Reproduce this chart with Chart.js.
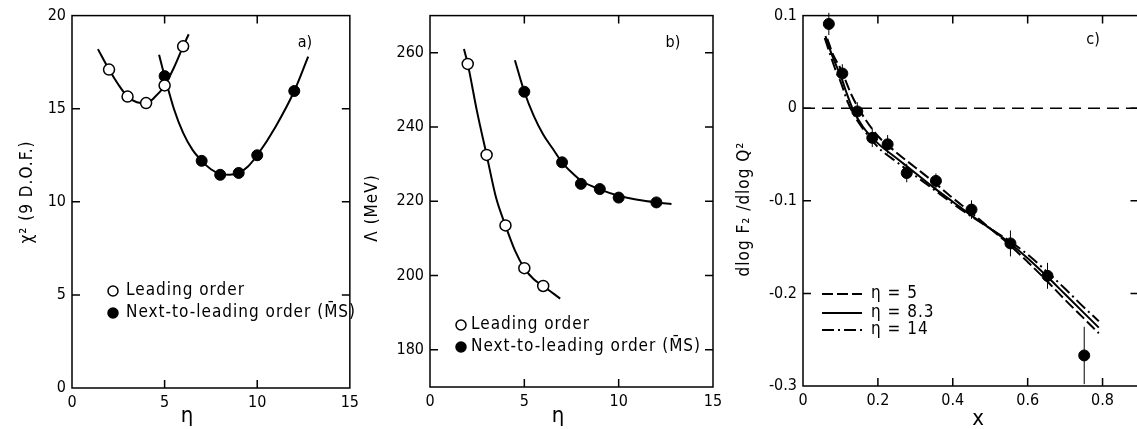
<!DOCTYPE html>
<html>
<head>
<meta charset="utf-8">
<script src="https://cdn.jsdelivr.net/npm/chart.js@4.4.1/dist/chart.umd.min.js"></script>
<style>
  html, body { margin: 0; padding: 0; background: #fff; width: 1137px; height: 429px; overflow: hidden; }
  canvas { position: absolute; top: 0; }
</style>
</head>
<body>
<canvas id="chartA" width="364" height="429" style="left:0px"></canvas>
<canvas id="chartB" width="370" height="429" style="left:364px"></canvas>
<canvas id="chartC" width="411" height="429" style="left:734px"></canvas>
<script>
// ---- panel a: chi2 vs eta
const etaLoA = [2, 3, 4, 5, 6];
const chi2Lo = [17.1, 15.65, 15.3, 16.25, 18.35];
const etaNloA = [5, 7, 8, 9, 10, 12];
const chi2Nlo = [16.75, 12.2, 11.45, 11.55, 12.5, 15.95];
const fitLoAEta = [1.4, 2, 2.5, 3, 3.5, 4, 4.5, 5, 5.5, 6, 6.3];
const fitLoAChi2 = [18.2, 17.1, 16.3, 15.65, 15.35, 15.3, 15.65, 16.25, 17.2, 18.35, 19.0];
const fitNloAEta = [4.7, 5, 5.5, 6, 6.5, 7, 7.5, 8, 8.5, 9, 9.5, 10, 11, 12, 12.75];
const fitNloAChi2 = [17.9, 16.75, 15.0, 13.7, 12.8, 12.2, 11.75, 11.5, 11.45, 11.55, 11.9, 12.5, 14.05, 15.95, 17.8];
const ticksAx = [0, 5, 10, 15];
const ticksAy = [0, 5, 10, 15, 20];

// ---- panel b: Lambda vs eta
const etaLoB = [2, 3, 4, 5, 6];
const lamLo = [257, 232.5, 213.5, 202, 197.2];
const etaNloB = [5, 7, 8, 9, 10, 12];
const lamNlo = [249.5, 230.5, 224.7, 223.3, 221, 219.7];
const fitLoBEta = [1.8, 2, 2.5, 3, 3.5, 4, 4.5, 5, 5.5, 6, 6.9];
const fitLoBLam = [261, 257, 244, 232.5, 221, 213.5, 206.8, 202, 199, 197.2, 193.8];
const fitNloBEta = [4.5, 5, 5.5, 6, 6.5, 7, 7.5, 8, 9, 10, 11, 12, 12.8];
const fitNloBLam = [258, 249.5, 243, 238, 234.2, 230.5, 227.8, 225.6, 223.2, 221.5, 220.4, 219.7, 219.3];
const ticksBx = [0, 5, 10, 15];
const ticksBy = [180, 200, 220, 240, 260];

// ---- panel c: dlogF2/dlogQ2 vs x
const xData = [0.069, 0.105, 0.145, 0.185, 0.226, 0.277, 0.355, 0.45, 0.554, 0.653, 0.751];
const slopeData = [0.091, 0.0375, -0.0035, -0.032, -0.039, -0.070, -0.0785, -0.1095, -0.146, -0.181, -0.267];
const slopeErr = [0.012, 0.010, 0.010, 0.010, 0.010, 0.010, 0.008, 0.010, 0.014, 0.014, 0.031];
const curveX5 = [0.065, 0.08, 0.10, 0.13, 0.16, 0.20, 0.25, 0.30, 0.35, 0.40, 0.45, 0.50, 0.55, 0.60, 0.65, 0.70, 0.75, 0.79];
const curveY5 = [0.075, 0.058, 0.043, 0.014, -0.008, -0.030, -0.048, -0.064, -0.080, -0.097, -0.113, -0.130, -0.147, -0.166, -0.186, -0.207, -0.227, -0.243];
const curveX83 = [0.060, 0.075, 0.09, 0.10, 0.115, 0.133, 0.16, 0.20, 0.25, 0.30, 0.35, 0.40, 0.45, 0.50, 0.55, 0.60, 0.65, 0.70, 0.75, 0.79];
const curveY83 = [0.078, 0.060, 0.045, 0.036, 0.018, -0.001, -0.020, -0.038, -0.054, -0.070, -0.086, -0.101, -0.116, -0.130, -0.145, -0.162, -0.181, -0.201, -0.221, -0.237];
const curveX14 = [0.058, 0.075, 0.09, 0.10, 0.12, 0.14, 0.16, 0.20, 0.25, 0.30, 0.35, 0.40, 0.45, 0.50, 0.55, 0.60, 0.65, 0.70, 0.75, 0.79];
const curveY14 = [0.076, 0.055, 0.038, 0.029, 0.006, -0.010, -0.022, -0.042, -0.058, -0.073, -0.088, -0.103, -0.117, -0.130, -0.143, -0.158, -0.176, -0.195, -0.215, -0.230];
const ticksCx = [0, 0.2, 0.4, 0.6, 0.8];
const ticksCy = [-0.3, -0.2, -0.1, 0, 0.1];

const legendAB = ['Leading order', 'Next-to-leading order (M\u0304S)'];
const legendC = ['\u03b7 = 5', '\u03b7 = 8.3', '\u03b7 = 14'];

const FONT = "'Liberation Sans Narrow', 'DejaVu Sans Condensed', 'Liberation Sans', sans-serif";

const pts = (xs, ys) => xs.map((x, i) => ({ x: x, y: ys[i] }));

// frame with inward ticks on all four sides
const framePlugin = {
  id: 'frame',
  afterDatasetsDraw(chart) {
    const { ctx, chartArea: a, scales: { x, y } } = chart;
    ctx.save();
    ctx.strokeStyle = '#000';
    ctx.lineWidth = 1.5;
    ctx.strokeRect(a.left, a.top, a.right - a.left, a.bottom - a.top);
    const len = 8;
    ctx.beginPath();
    x.ticks.forEach(t => {
      const px = x.getPixelForValue(t.value);
      if (px < a.left + 2 || px > a.right - 2) return;
      ctx.moveTo(px, a.bottom); ctx.lineTo(px, a.bottom - len);
      ctx.moveTo(px, a.top); ctx.lineTo(px, a.top + len);
    });
    y.ticks.forEach(t => {
      const py = y.getPixelForValue(t.value);
      if (py < a.top + 2 || py > a.bottom - 2) return;
      ctx.moveTo(a.left, py); ctx.lineTo(a.left + len, py);
      ctx.moveTo(a.right, py); ctx.lineTo(a.right - len, py);
    });
    ctx.stroke();
    ctx.restore();
  }
};

// axis titles, panel letter and legend
const notesPlugin = {
  id: 'notes',
  afterDraw(chart, args, o) {
    const ctx = chart.ctx;
    ctx.save();
    ctx.fillStyle = '#000';
    ctx.strokeStyle = '#000';
    ctx.textBaseline = 'middle';
    ctx.textAlign = 'center';
    // y title (rotated)
    ctx.font = '17px ' + FONT;
    ctx.save();
    ctx.translate(o.yTitle.x, o.yTitle.y);
    ctx.rotate(-Math.PI / 2);
    ctx.letterSpacing = '1px';
    ctx.fillText(o.yTitle.text, 0, 0);
    ctx.restore();
    ctx.font = '22px ' + FONT;
    ctx.fillText(o.xTitle.text, o.xTitle.x, o.xTitle.y);
    ctx.font = '16px ' + FONT;
    ctx.fillText(o.tag.text, o.tag.x, o.tag.y);
    // legend
    ctx.font = '17px ' + FONT;
    ctx.letterSpacing = '1px';
    ctx.textAlign = 'left';
    o.items.forEach(it => {
      if (it.marker) {
        ctx.beginPath();
        ctx.arc(it.mx, it.y, 5, 0, 2 * Math.PI);
        ctx.fillStyle = it.marker === 'open' ? '#fff' : '#000';
        ctx.fill();
        ctx.lineWidth = 1.5;
        ctx.stroke();
        ctx.fillStyle = '#000';
      }
      if (it.dash) {
        ctx.setLineDash(it.dash);
        ctx.lineWidth = 2;
        ctx.beginPath();
        ctx.moveTo(it.x1, it.y);
        ctx.lineTo(it.x2, it.y);
        ctx.stroke();
        ctx.setLineDash([]);
      }
      ctx.fillText(it.text, it.tx, it.y);
    });
    ctx.restore();
  }
};

// vertical error bars for panel c
const errorPlugin = {
  id: 'errbars',
  beforeDatasetsDraw(chart, args, o) {
    if (!o.err) return;
    const { ctx, scales: { x, y } } = chart;
    ctx.save();
    ctx.strokeStyle = '#000';
    ctx.lineWidth = 1;
    ctx.beginPath();
    o.xs.forEach((xv, i) => {
      const px = x.getPixelForValue(xv);
      ctx.moveTo(px, y.getPixelForValue(o.ys[i] + o.err[i]));
      ctx.lineTo(px, y.getPixelForValue(o.ys[i] - o.err[i]));
    });
    ctx.stroke();
    ctx.restore();
  }
};

function axes(xr, yr, xTicks, yTicks, yW, xH) {
  const tickFont = { family: FONT, size: 16 };
  return {
    x: {
      type: 'linear', min: xr[0], max: xr[1],
      afterBuildTicks: s => { s.ticks = xTicks.map(v => ({ value: v })); },
      afterFit: s => { s.height = xH; },
      grid: { display: false, drawTicks: false },
      border: { display: false },
      ticks: { color: '#000', font: tickFont, padding: 5, maxRotation: 0 }
    },
    y: {
      type: 'linear', min: yr[0], max: yr[1],
      afterBuildTicks: s => { s.ticks = yTicks.map(v => ({ value: v })); },
      afterFit: s => { s.width = yW; },
      grid: { display: false, drawTicks: false },
      border: { display: false },
      ticks: { color: '#000', font: tickFont, padding: 6 }
    }
  };
}

const openPts = data => ({ data, showLine: false, pointRadius: 5.5, pointBorderWidth: 1.5,
  pointBackgroundColor: '#fff', pointBorderColor: '#000', order: 0 });
const fullPts = data => ({ data, showLine: false, pointRadius: 5.5, pointBorderWidth: 1,
  pointBackgroundColor: '#000', pointBorderColor: '#000', order: 0 });
const curve = (data, dash) => ({ data, borderColor: '#000', borderWidth: 2, borderDash: dash || [],
  pointRadius: 0, cubicInterpolationMode: 'monotone', fill: false, order: 1 });

function baseOptions(pad, scales, notes, err) {
  return {
    responsive: false,
    animation: false,
    layout: { padding: pad },
    scales,
    plugins: { legend: { display: false }, tooltip: { enabled: false }, notes, errbars: err || {} }
  };
}

Chart.register(framePlugin, notesPlugin, errorPlugin);

new Chart(document.getElementById('chartA'), {
  type: 'line',
  data: { datasets: [
    curve(pts(fitLoAEta, fitLoAChi2)),
    curve(pts(fitNloAEta, fitNloAChi2)),
    openPts(pts(etaLoA, chi2Lo)),
    fullPts(pts(etaNloA, chi2Nlo))
  ] },
  options: baseOptions({ left: 0, top: 14, right: 9, bottom: 0 },
    axes([0, 15], [0, 20], ticksAx, ticksAy, 72, 41),
    {
      yTitle: { text: '\u03c7\u00b2 (9 D.O.F.)', x: 28, y: 192 },
      xTitle: { text: '\u03b7', x: 187, y: 416 },
      tag: { text: 'a)', x: 305, y: 43 },
      items: [
        { marker: 'open', mx: 113, y: 291, tx: 126, text: legendAB[0] },
        { marker: 'full', mx: 113, y: 313, tx: 126, text: legendAB[1] }
      ]
    })
});

new Chart(document.getElementById('chartB'), {
  type: 'line',
  data: { datasets: [
    curve(pts(fitLoBEta, fitLoBLam)),
    curve(pts(fitNloBEta, fitNloBLam)),
    openPts(pts(etaLoB, lamLo)),
    fullPts(pts(etaNloB, lamNlo))
  ] },
  options: baseOptions({ left: 0, top: 13, right: 21, bottom: 0 },
    axes([0, 15], [170, 270], ticksBx, ticksBy, 66, 42),
    {
      yTitle: { text: '\u039b (MeV)', x: 9, y: 208 },
      xTitle: { text: '\u03b7', x: 194, y: 416 },
      tag: { text: 'b)', x: 309, y: 43 },
      items: [
        { marker: 'open', mx: 97, y: 325, tx: 107, text: legendAB[0] },
        { marker: 'full', mx: 97, y: 347, tx: 107, text: legendAB[1] }
      ]
    })
});

new Chart(document.getElementById('chartC'), {
  type: 'line',
  data: { datasets: [
    { data: [{ x: 0, y: 0 }, { x: 0.896, y: 0 }], borderColor: '#000', borderWidth: 1.5,
      borderDash: [12, 7], pointRadius: 0, order: 2 },
    curve(pts(curveX5, curveY5), [11, 4]),
    curve(pts(curveX83, curveY83)),
    curve(pts(curveX14, curveY14), [12, 4, 2, 4]),
    fullPts(pts(xData, slopeData))
  ] },
  options: baseOptions({ left: 0, top: 13, right: 5, bottom: 0 },
    axes([0, 0.896], [-0.3, 0.1], ticksCx, ticksCy, 69, 43),
    {
      yTitle: { text: 'dlog F\u2082 /dlog Q\u00b2', x: 11, y: 209 },
      xTitle: { text: 'x', x: 244, y: 419 },
      tag: { text: 'c)', x: 359, y: 40 },
      items: [
        { dash: [11, 4], x1: 88, x2: 128, y: 294, tx: 137, text: legendC[0] },
        { dash: [], x1: 88, x2: 128, y: 313, tx: 137, text: legendC[1] },
        { dash: [12, 4, 2, 4], x1: 88, x2: 128, y: 330, tx: 137, text: legendC[2] }
      ]
    },
    { xs: xData, ys: slopeData, err: slopeErr })
});
</script>
</body>
</html>
